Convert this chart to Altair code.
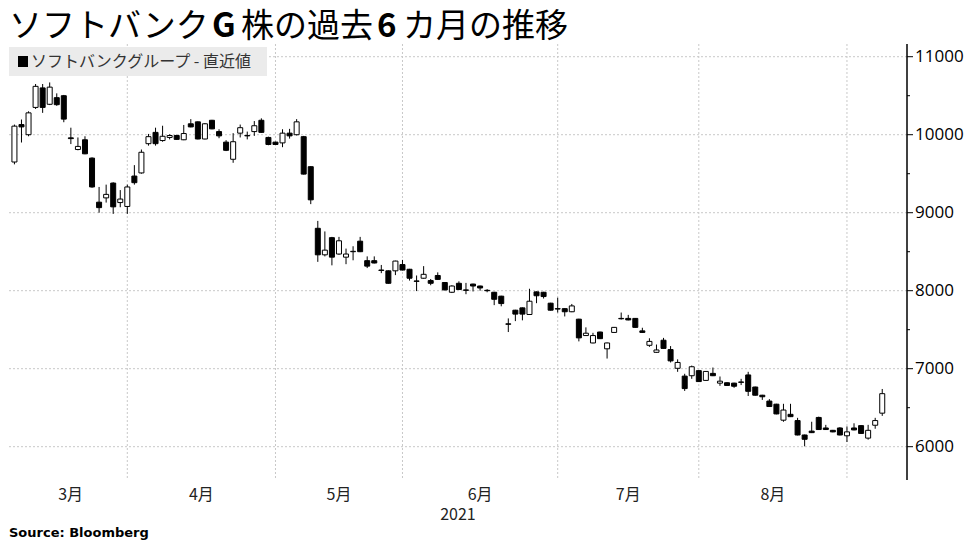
import altair as alt
import pandas as pd

# ---------------- data ----------------
opens = [9650, 10130, 10000, 10350, 10600, 10390, 10475, 10500, 9960, 9810,
         9935, 9700, 9135, 9190, 9380, 9130, 9080, 9470, 9510, 9885,
         10030, 9925, 9965, 9990, 9935, 10140, 10165, 9945, 10185, 10040,
         9905, 9685, 10020, 9990, 10040, 10185, 9965, 9905, 9895, 10020,
         10000, 9975, 9590, 8800, 8460, 8680, 8470, 8430, 8500, 8635,
         8385, 8385, 8265, 8255, 8255, 8335, 8275, 8125, 8160, 8130,
         8195, 8105, 7980, 8095, 8010, 8085, 8060, 8005, 7980, 7930,
         7575, 7750, 7780, 7695, 7985, 7980, 7840, 7770, 7770, 7730,
         7635, 7425, 7330, 7470, 7255, 7465, 7645, 7645, 7645, 7485,
         7300, 7210, 7365, 7245, 7005, 6905, 6910, 6975, 6850, 6940,
         6815, 6820, 6815, 6830, 6920, 6765, 6660, 6585, 6545, 6340,
         6415, 6335, 6150, 6200, 6375, 6240, 6210, 6240, 6140, 6240,
         6270, 6110, 6275, 6430]
highs = [10130, 10195, 10300, 10650, 10650, 10670, 10530, 10510, 10090, 9965,
         9980, 9710, 9330, 9360, 9390, 9290, 9360, 9610, 9810, 10010,
         10090, 10115, 10005, 10000, 10125, 10200, 10170, 10150, 10190, 10070,
         9930, 10020, 10130, 10040, 10175, 10210, 9975, 9910, 10070, 10075,
         10200, 9985, 9595, 8895, 8760, 8690, 8690, 8540, 8570, 8690,
         8440, 8440, 8330, 8260, 8385, 8395, 8280, 8195, 8315, 8150,
         8235, 8110, 8070, 8120, 8100, 8090, 8065, 8020, 7985, 7935,
         7645, 7755, 7785, 8025, 7990, 7985, 7845, 7910, 7775, 7830,
         7640, 7530, 7460, 7475, 7335, 7535, 7720, 7690, 7650, 7525,
         7390, 7310, 7395, 7290, 7120, 6935, 7040, 6980, 6970, 7015,
         6900, 6825, 6820, 6870, 6960, 6770, 6665, 6610, 6550, 6550,
         6550, 6370, 6155, 6320, 6385, 6280, 6215, 6250, 6260, 6300,
         6275, 6280, 6370, 6740]
lows = [9620, 9900, 9980, 10330, 10280, 10380, 10370, 10160, 9880, 9800,
        9750, 9320, 9000, 9130, 8985, 9070, 8985, 9360, 9500, 9860,
        9860, 9910, 9940, 9935, 9930, 10095, 9940, 9940, 10070, 9955,
        9790, 9640, 9965, 9940, 9985, 10025, 9865, 9870, 9840, 9950,
        9990, 9490, 9110, 8370, 8440, 8325, 8460, 8340, 8390, 8495,
        8290, 8350, 8225, 8090, 8200, 8260, 8130, 7995, 8155, 8070,
        8140, 8005, 7970, 8010, 7955, 7990, 8000, 7980, 7815, 7800,
        7470, 7610, 7620, 7690, 7840, 7900, 7745, 7720, 7670, 7725,
        7350, 7420, 7325, 7380, 7130, 7460, 7630, 7620, 7525, 7460,
        7280, 7205, 7255, 7080, 6960, 6715, 6870, 6830, 6845, 6905,
        6780, 6780, 6755, 6790, 6650, 6655, 6600, 6510, 6415, 6320,
        6380, 6145, 6005, 6175, 6215, 6215, 6185, 6145, 6060, 6210,
        6165, 6090, 6230, 6395]
closes = [10110, 10100, 10280, 10620, 10350, 10610, 10385, 10200, 9950, 9850,
          9755, 9330, 9065, 9235, 9075, 9175, 9330, 9385, 9775, 9975,
          9885, 9980, 9990, 9940, 10015, 10100, 9945, 10140, 10075, 9985,
          9800, 9910, 10090, 9985, 10115, 10030, 9875, 9875, 10020, 9985,
          10165, 9495, 9165, 8460, 8520, 8430, 8640, 8470, 8505, 8500,
          8315, 8355, 8260, 8095, 8380, 8265, 8160, 8120, 8210, 8095,
          8145, 8010, 8060, 8015, 8005, 8060, 8035, 8000, 7890, 7835,
          7570, 7700, 7700, 7865, 7935, 7925, 7750, 7765, 7730, 7805,
          7395, 7455, 7425, 7385, 7330, 7530, 7640, 7625, 7530, 7465,
          7350, 7240, 7260, 7100, 7080, 6745, 7025, 6835, 6965, 6910,
          6840, 6785, 6775, 6825, 6710, 6660, 6640, 6515, 6420, 6470,
          6385, 6150, 6095, 6180, 6220, 6220, 6190, 6150, 6190, 6215,
          6170, 6210, 6335, 6680]

month_labels = ["3月", "4月", "5月", "6月", "7月", "8月"]
month_starts = [16, 37, 55, 77, 97, 118]   # trading-day index of 1st session of Apr..Sep
y_ticks = [6000, 7000, 8000, 9000, 10000, 11000]
y_minor = [6500, 7500, 8500, 9500, 10500]
year_label = "2021"
title_parts = ["ソフトバンク", "G", "株の過去", "6", "カ月の推移"]
legend_text = "ソフトバンクグループ - 直近値"
source_text = "Source: Bloomberg"

# ---------------- layout ----------------
W, H = 898, 436
X_DOMAIN = [-0.06, 125.8]
Y_DOMAIN = [5573, 11163]
CJK = "Noto Sans CJK JP"

xs = alt.Scale(domain=X_DOMAIN, nice=False, zero=False)
ys = alt.Scale(domain=Y_DOMAIN, nice=False, zero=False)

candles = pd.DataFrame({"i": list(range(len(opens))), "o": opens, "h": highs,
                        "l": lows, "c": closes})
candles["dir"] = ["up" if c > o else "down" for o, c in zip(opens, closes)]

dummy = pd.DataFrame({"a": [0]})
major_df = pd.DataFrame({"v": y_ticks, "lbl": [str(v) for v in y_ticks]})

# grid
hgrid = alt.Chart(major_df).mark_rule(
    color="#c8c8c8", strokeDash=[2, 2], strokeWidth=1
).encode(
    y=alt.Y("v:Q", scale=ys, axis=None),
    x=alt.value(0), x2=alt.value(W),
)
vgrid = alt.Chart(pd.DataFrame({"v": month_starts})).mark_rule(
    color="#c8c8c8", strokeDash=[2, 2], strokeWidth=1
).encode(
    x=alt.X("v:Q", scale=xs, axis=None),
    y=alt.value(0), y2=alt.value(H),
)

# right-hand price axis (line, ticks, labels) drawn through the y scale
axis_line = alt.Chart(dummy).mark_rule(color="#000000", strokeWidth=1.5).encode(
    x=alt.value(W), y=alt.value(0), y2=alt.value(H)
)
major_ticks = alt.Chart(major_df).mark_rule(color="#000000", strokeWidth=1).encode(
    y=alt.Y("v:Q", scale=ys, axis=None), x=alt.value(W), x2=alt.value(W + 6)
)
minor_ticks = alt.Chart(pd.DataFrame({"v": y_minor})).mark_rule(
    color="#000000", strokeWidth=1
).encode(
    y=alt.Y("v:Q", scale=ys, axis=None), x=alt.value(W), x2=alt.value(W + 3)
)
tick_labels = alt.Chart(major_df).mark_text(
    font="Open Sans", fontSize=17, color="#000000", align="left", baseline="middle"
).encode(
    y=alt.Y("v:Q", scale=ys, axis=None), x=alt.value(W + 8), text="lbl:N"
)

# candles
wicks = alt.Chart(candles).mark_rule(color="#000000", strokeWidth=1, clip=True).encode(
    x=alt.X("i:Q", scale=xs, axis=None),
    y=alt.Y("l:Q", scale=ys, axis=None),
    y2="h:Q",
)
bodies = alt.Chart(candles).mark_bar(
    size=5, stroke="#000000", strokeWidth=1, clip=True, orient="vertical"
).encode(
    x=alt.X("i:Q", scale=xs, axis=None),
    y=alt.Y("o:Q", scale=ys, axis=None),
    y2="c:Q",
    fill=alt.Fill("dir:N", scale=alt.Scale(domain=["up", "down"], range=["#ffffff", "#000000"]),
                  legend=None),
)

# legend
legend_box = alt.Chart(dummy).mark_rect(color="#ebebeb").encode(
    x=alt.value(0), x2=alt.value(258), y=alt.value(3), y2=alt.value(32)
)
legend_sq = alt.Chart(dummy).mark_rect(color="#000000").encode(
    x=alt.value(9), x2=alt.value(19), y=alt.value(12), y2=alt.value(23)
)
legend_lbl = alt.Chart(dummy).mark_text(
    text=legend_text, font=CJK, fontSize=16, color="#333333", align="left", baseline="middle"
).encode(x=alt.value(22), y=alt.value(18))

# title pieces (Latin pieces bold, as in the reference)
title_x = [0, 203, 232, 368, 394]
title_layers = []
for txt, px in zip(title_parts, title_x):
    bold = txt in ("G", "6")
    title_layers.append(
        alt.Chart(dummy).mark_text(
            text=txt, font=CJK, fontSize=33, fontWeight="bold" if bold else "normal",
            color="#000000", align="left", baseline="middle"
        ).encode(x=alt.value(px), y=alt.value(-17))
    )

# month labels, year, source
bounds = [X_DOMAIN[0]] + month_starts
month_df = pd.DataFrame({
    "m": month_labels,
    "pos": [(bounds[k] + bounds[k + 1]) / 2 for k in range(len(month_labels))],
})
months = alt.Chart(month_df).mark_text(
    font=CJK, fontSize=16, color="#222222", baseline="middle", align="center"
).encode(
    x=alt.X("pos:Q", scale=xs, axis=None),
    y=alt.value(H + 15),
    text="m:N",
)
year = alt.Chart(dummy).mark_text(
    text=year_label, font=CJK, fontSize=16, color="#222222", baseline="middle", align="center"
).encode(x=alt.value(W / 2), y=alt.value(H + 35))
source = alt.Chart(dummy).mark_text(
    text=source_text, font="DejaVu Sans", fontSize=13, fontWeight="bold",
    color="#000000", align="left", baseline="middle"
).encode(x=alt.value(0), y=alt.value(H + 53))

chart = alt.layer(
    hgrid, vgrid, wicks, bodies, axis_line, major_ticks, minor_ticks, tick_labels,
    legend_box, legend_sq, legend_lbl, *title_layers, months, year, source
).properties(
    width=W, height=H,
    padding={"left": 0, "right": 2, "top": 3, "bottom": 0},
    background="#ffffff",
).configure_view(stroke=None)

chart.save("out.html", embed_options={"renderer": "svg", "actions": False})
